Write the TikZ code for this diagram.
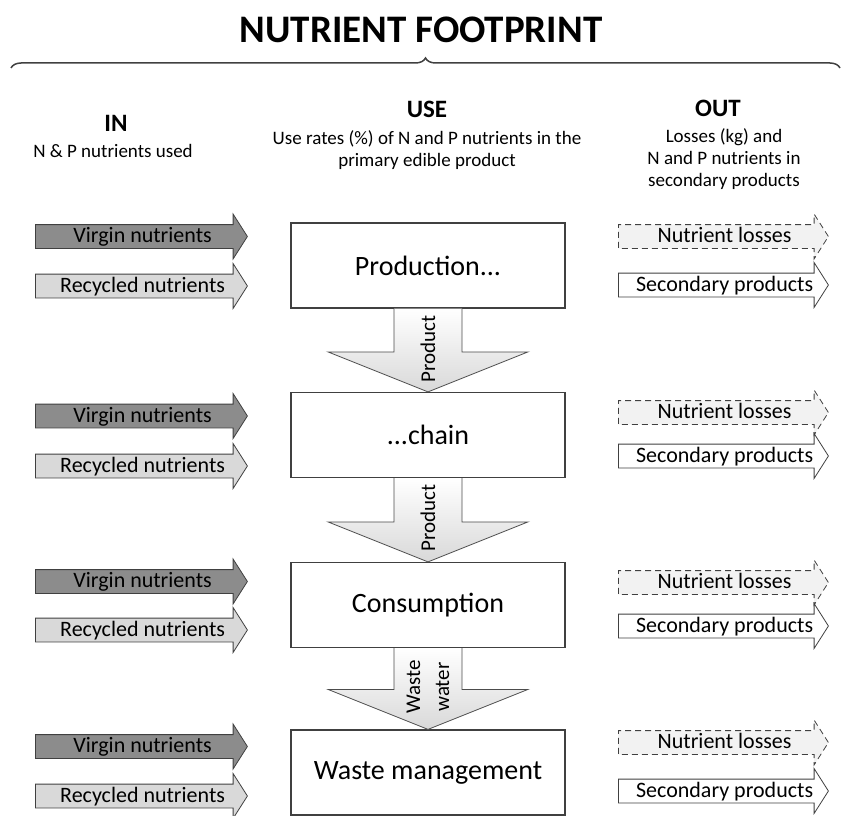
\documentclass[tikz,border=0pt]{standalone}
\usepackage{fontspec}
\setmainfont{Carlito}
\usetikzlibrary{calc,shapes.arrows,decorations.pathreplacing}

\tikzset{
  stage/.style={draw=black!75, line width=1.2pt, fill=white, minimum width=274pt,
    minimum height=85pt, inner sep=0pt, font=\fontsize{28}{30}\selectfont},
  blockarrow/.style={single arrow, draw=black!75, line width=0.8pt, single arrow head extend=10.5pt,
    single arrow head indent=0pt, single arrow tip angle=115, text height=15.5pt, text depth=3.5pt,
    inner ysep=2pt, inner xsep=0pt, execute at begin node=\hspace*{10pt},
    font=\fontsize{22}{24}\selectfont},
  virgin/.style={blockarrow, fill=black!45, minimum height=212pt, anchor=tail},
  recycled/.style={blockarrow, fill=black!15, minimum height=212pt, anchor=tail},
  losses/.style={blockarrow, fill=black!5, dashed, dash pattern=on 6pt off 4pt, minimum height=210pt, anchor=tail},
  secondary/.style={blockarrow, fill=white, minimum height=210pt, anchor=tail},
  flowdown/.style={draw=black!70, line width=0.8pt, top color=white, bottom color=black!15},
  head/.style={font=\bfseries\fontsize{25}{28}\selectfont},
  sub/.style={align=center, font=\fontsize{19}{22}\selectfont}
}

\begin{document}
\begin{tikzpicture}[x=1pt, y=-1pt]
  \useasboundingbox (0,0) rectangle (843,816);

  % title and brace
  \node[font=\bfseries\fontsize{39}{41}\selectfont] (title) at (421,29.5) {NUTRIENT FOOTPRINT};
  \coordinate (bl) at (11,68);
  \coordinate (br) at (840,68);
  \draw[black!75, line width=1.5pt, decorate, decoration={brace, amplitude=10pt}] (bl) -- (br);

  % column headings
  \node[head] (inT) at (116,123) {IN};
  \node[sub] (inS) at (113,151) {N \& P nutrients used};
  \node[head] (useT) at (427,109) {USE};
  \node[sub] (useS) at (427,150) {Use rates (\%) of N and P nutrients in the\\primary edible product};
  \node[head] (outT) at (718,108) {OUT};
  \node[sub] (outS) at (724,159) {Losses (kg) and\\N and P nutrients in\\secondary products};

  % chain of stages
  \node[stage] (prod) at (428,265.5) {Production...};
  \node[stage] (chain) at (428,435) {...chain};
  \node[stage] (cons) at (428,605) {Consumption};
  \node[stage] (waste) at (428,772.5) {Waste management};

  % flows between stages
  \foreach \a/\b/\lab in {prod/chain/Product, chain/cons/Product, cons/waste/{Waste\\water}}{
    \draw[flowdown] ([xshift=-34pt]\a.south) -- ([xshift=-34pt,yshift=40pt]\b.north)
      -- ([xshift=-100pt,yshift=40pt]\b.north) -- (\b.north)
      -- ([xshift=100pt,yshift=40pt]\b.north) -- ([xshift=34pt,yshift=40pt]\b.north)
      -- ([xshift=34pt]\a.south);
    \node[rotate=90, align=center, font=\fontsize{21}{29}\selectfont] (lab-\a)
      at ($(\a.south)!0.48!(\b.north)$) {\lab};
  }

  % inputs and outputs of each stage
  \foreach \r/\vy/\ry/\ly/\sy in {1/236.5/286/236.5/285, 2/416/466/412.5/456,
                                  3/581.5/630/582.5/626, 4/746.5/796/742.5/791}{
    \node[virgin] (vir\r) at (35,\vy) {Virgin nutrients};
    \node[recycled] (rec\r) at (35,\ry) {Recycled nutrients};
    \node[losses] (loss\r) at (618,\ly) {Nutrient losses};
    \node[secondary] (sec\r) at (618,\sy) {Secondary products};
  }
\end{tikzpicture}
\end{document}
